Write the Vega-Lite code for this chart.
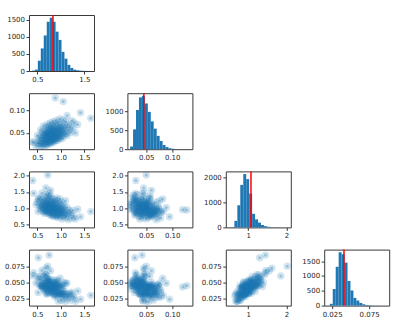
{
"$schema": "https://vega.github.io/schema/vega-lite/v6.json",
"background": "white",
"padding": {"left": 3, "top": 13, "right": 5, "bottom": 3},
"columns": 4,
"spacing": {"row": 22.2, "column": 33.4},
"bounds": "flush",
"config": {
  "view": {"stroke": "#3a3a3a", "strokeWidth": 1},
  "axis": {"grid": false, "domain": false, "labelFont": "DejaVu Sans", "labelFontSize": 7, "labelColor": "#262626", "tickColor": "#3a3a3a", "tickSize": 3, "labelPadding": 1.5}
},
"datasets": {
  "samples": [
{"a":0.42,"b":0.0292,"c":1.458,"d":0.065},{"a":0.47,"b":0.0205,"c":1.119,"d":0.0489},{"a":0.5,"b":0.0445,"c":1.199,"d":0.0589},{"a":0.515,"b":0.0275,"c":0.904,"d":0.0343},{"a":0.53,"b":0.0393,"c":1.265,"d":0.055},
{"a":0.545,"b":0.021,"c":1.098,"d":0.0456},{"a":0.556,"b":0.0327,"c":1.015,"d":0.0537},{"a":0.568,"b":0.0566,"c":1.328,"d":0.0593},{"a":0.575,"b":0.0269,"c":1.046,"d":0.0445},{"a":0.581,"b":0.039,"c":1.178,"d":0.0444},
{"a":0.588,"b":0.022,"c":0.949,"d":0.0452},{"a":0.594,"b":0.0461,"c":1.46,"d":0.0682},{"a":0.6,"b":0.0325,"c":1.106,"d":0.0444},{"a":0.606,"b":0.0531,"c":1.006,"d":0.0453},{"a":0.613,"b":0.0264,"c":1.26,"d":0.0448},
{"a":0.619,"b":0.0394,"c":1.081,"d":0.0522},{"a":0.625,"b":0.0657,"c":0.893,"d":0.0406},{"a":0.632,"b":0.0218,"c":1.187,"d":0.0521},{"a":0.638,"b":0.0455,"c":1.104,"d":0.0592},{"a":0.642,"b":0.0321,"c":0.951,"d":0.038},
{"a":0.646,"b":0.0393,"c":0.845,"d":0.0435},{"a":0.65,"b":0.027,"c":1.211,"d":0.0482},{"a":0.655,"b":0.0514,"c":1.049,"d":0.0393},{"a":0.659,"b":0.034,"c":0.969,"d":0.0446},{"a":0.663,"b":0.0453,"c":1.285,"d":0.0618},
{"a":0.667,"b":0.0212,"c":1.004,"d":0.0402},{"a":0.672,"b":0.0379,"c":1.137,"d":0.0482},{"a":0.676,"b":0.0615,"c":0.909,"d":0.0332},{"a":0.68,"b":0.0317,"c":1.42,"d":0.0614},{"a":0.684,"b":0.0436,"c":1.068,"d":0.0449},
{"a":0.689,"b":0.0266,"c":0.968,"d":0.0446},{"a":0.693,"b":0.0505,"c":1.224,"d":0.0619},{"a":0.697,"b":0.0368,"c":1.046,"d":0.04},{"a":0.7,"b":0.0574,"c":0.86,"d":0.0424},{"a":0.703,"b":0.0305,"c":1.155,"d":0.0461},
{"a":0.706,"b":0.0433,"c":1.074,"d":0.0517},{"a":0.709,"b":0.0695,"c":0.92,"d":0.0315},{"a":0.712,"b":0.0254,"c":1.327,"d":0.0538},{"a":0.715,"b":0.0489,"c":1.009,"d":0.0401},{"a":0.718,"b":0.0356,"c":1.1,"d":0.0536},
{"a":0.721,"b":0.0427,"c":0.941,"d":0.0335},{"a":0.724,"b":0.0303,"c":1.258,"d":0.0558},{"a":0.727,"b":0.0547,"c":0.977,"d":0.0414},{"a":0.731,"b":0.0372,"c":1.111,"d":0.0483},{"a":0.734,"b":0.0485,"c":0.883,"d":0.051},
{"a":0.737,"b":0.0243,"c":1.396,"d":0.0498},{"a":0.74,"b":0.041,"c":1.043,"d":0.0473},{"a":0.743,"b":0.0645,"c":0.944,"d":0.0391},{"a":0.746,"b":0.0346,"c":1.2,"d":0.0549},{"a":0.749,"b":0.0466,"c":1.022,"d":0.0339},
{"a":0.752,"b":0.0294,"c":0.836,"d":0.0384},{"a":0.755,"b":0.0533,"c":1.132,"d":0.0431},{"a":0.758,"b":0.0396,"c":1.05,"d":0.0514},{"a":0.762,"b":0.0601,"c":0.897,"d":0.0431},{"a":0.765,"b":0.0333,"c":1.303,"d":0.0491},
{"a":0.768,"b":0.0461,"c":0.985,"d":0.0355},{"a":0.771,"b":0.0722,"c":1.077,"d":0.046},{"a":0.774,"b":0.0282,"c":0.787,"d":0.0451},{"a":0.777,"b":0.0517,"c":1.154,"d":0.0429},{"a":0.78,"b":0.0384,"c":0.993,"d":0.0421},
{"a":0.783,"b":0.0455,"c":1.087,"d":0.0428},{"a":0.786,"b":0.0331,"c":0.86,"d":0.044},{"a":0.789,"b":0.0575,"c":1.372,"d":0.0437},{"a":0.792,"b":0.04,"c":1.019,"d":0.0433},{"a":0.795,"b":0.0512,"c":0.921,"d":0.036},
{"a":0.798,"b":0.0271,"c":1.176,"d":0.0546},{"a":0.801,"b":0.0437,"c":0.999,"d":0.0456},{"a":0.804,"b":0.0672,"c":0.813,"d":0.0337},{"a":0.807,"b":0.0374,"c":1.108,"d":0.0385},{"a":0.81,"b":0.0493,"c":1.027,"d":0.0438},
{"a":0.813,"b":0.0321,"c":0.874,"d":0.047},{"a":0.816,"b":0.0561,"c":1.28,"d":0.046},{"a":0.819,"b":0.0423,"c":0.962,"d":0.0405},{"a":0.822,"b":0.0628,"c":1.054,"d":0.0351},{"a":0.825,"b":0.036,"c":0.764,"d":0.0394},
{"a":0.828,"b":0.0488,"c":1.131,"d":0.0444},{"a":0.831,"b":0.0749,"c":0.97,"d":0.0424},{"a":0.834,"b":0.0309,"c":0.89,"d":0.0496},{"a":0.837,"b":0.0544,"c":1.207,"d":0.0425},{"a":0.84,"b":0.0411,"c":0.927,"d":0.0421},
{"a":0.843,"b":0.0482,"c":0.996,"d":0.0386},{"a":0.846,"b":0.0358,"c":0.898,"d":0.0315},{"a":0.849,"b":0.0602,"c":1.153,"d":0.047},{"a":0.852,"b":0.0427,"c":0.976,"d":0.0494},{"a":0.855,"b":0.0539,"c":0.79,"d":0.0307},
{"a":0.858,"b":0.0298,"c":1.085,"d":0.0436},{"a":0.861,"b":0.0464,"c":1.004,"d":0.033},{"a":0.864,"b":0.0699,"c":0.851,"d":0.0413},{"a":0.867,"b":0.0401,"c":1.257,"d":0.0475},{"a":0.87,"b":0.052,"c":0.939,"d":0.0408},
{"a":0.873,"b":0.0348,"c":1.031,"d":0.0531},{"a":0.876,"b":0.0588,"c":0.741,"d":0.0279},{"a":0.879,"b":0.045,"c":1.108,"d":0.0469},{"a":0.882,"b":0.0655,"c":0.947,"d":0.0369},{"a":0.889,"b":0.0389,"c":0.865,"d":0.0425},
{"a":0.893,"b":0.0517,"c":1.182,"d":0.0363},{"a":0.897,"b":0.0779,"c":0.901,"d":0.038},{"a":0.901,"b":0.0339,"c":1.034,"d":0.0378},{"a":0.905,"b":0.0575,"c":0.806,"d":0.0417},{"a":0.909,"b":0.0442,"c":1.318,"d":0.0533},
{"a":0.913,"b":0.0513,"c":0.949,"d":0.0434},{"a":0.917,"b":0.039,"c":0.762,"d":0.0318},{"a":0.921,"b":0.0634,"c":1.057,"d":0.0435},{"a":0.925,"b":0.046,"c":0.975,"d":0.0506},{"a":0.929,"b":0.0573,"c":0.821,"d":0.0294},
{"a":0.933,"b":0.0331,"c":1.228,"d":0.0496},{"a":0.937,"b":0.0498,"c":0.909,"d":0.0349},{"a":0.941,"b":0.0734,"c":1.0,"d":0.0457},{"a":0.945,"b":0.0436,"c":0.71,"d":0.0214},{"a":0.949,"b":0.0556,"c":1.076,"d":0.0424},
{"a":0.952,"b":0.0384,"c":0.915,"d":0.0333},{"a":0.957,"b":0.0624,"c":0.835,"d":0.0417},{"a":0.962,"b":0.0487,"c":1.151,"d":0.0474},{"a":0.967,"b":0.0694,"c":0.869,"d":0.0327},{"a":0.972,"b":0.0426,"c":1.002,"d":0.0326},
{"a":0.977,"b":0.0555,"c":0.774,"d":0.0335},{"a":0.982,"b":0.0817,"c":1.286,"d":0.0565},{"a":0.987,"b":0.0378,"c":0.931,"d":0.0328},{"a":0.992,"b":0.0614,"c":0.832,"d":0.0337},{"a":0.997,"b":0.0481,"c":1.087,"d":0.0333},
{"a":1.002,"b":0.0553,"c":0.941,"d":0.0428},{"a":1.007,"b":0.0431,"c":0.786,"d":0.0226},{"a":1.011,"b":0.0674,"c":1.193,"d":0.0449},{"a":1.018,"b":0.0502,"c":0.872,"d":0.031},{"a":1.025,"b":0.0616,"c":0.962,"d":0.0444},
{"a":1.033,"b":0.0376,"c":0.671,"d":0.0319},{"a":1.041,"b":0.0545,"c":1.035,"d":0.0365},{"a":1.049,"b":0.0783,"c":0.871,"d":0.0274},{"a":1.057,"b":0.0486,"c":0.79,"d":0.0327},{"a":1.064,"b":0.0607,"c":1.105,"d":0.0498},
{"a":1.072,"b":0.0438,"c":0.822,"d":0.028},{"a":1.08,"b":0.068,"c":0.954,"d":0.036},{"a":1.09,"b":0.0545,"c":0.723,"d":0.0208},{"a":1.1,"b":0.0754,"c":1.233,"d":0.0488},{"a":1.11,"b":0.0488,"c":0.876,"d":0.0321},
{"a":1.12,"b":0.062,"c":0.775,"d":0.0317},{"a":1.133,"b":0.0885,"c":1.026,"d":0.0487},{"a":1.145,"b":0.0449,"c":0.844,"d":0.0266},{"a":1.16,"b":0.069,"c":0.653,"d":0.0286},{"a":1.175,"b":0.0561,"c":0.943,"d":0.032},
{"a":1.195,"b":0.064,"c":0.793,"d":0.0226},{"a":1.21,"b":0.0522,"c":0.879,"d":0.0328},{"a":1.235,"b":0.0775,"c":0.7,"d":0.0349},{"a":1.26,"b":0.0611,"c":0.937,"d":0.0284},{"a":1.28,"b":0.0731,"c":0.768,"d":0.0271},
{"a":1.31,"b":0.0501,"c":0.676,"d":0.021},{"a":1.36,"b":0.0689,"c":0.972,"d":0.0367},{"a":1.42,"b":0.095,"c":0.74,"d":0.024},{"a":1.64,"b":0.083,"c":0.9,"d":0.03},
{"a":0.88,"b":0.128,"c":0.95,"d":0.045},{"a":1.05,"b":0.12,"c":0.96,"d":0.043},{"a":0.72,"b":0.05,"c":2.02,"d":0.075},{"a":0.4,"b":0.03,"c":1.85,"d":0.06},{"a":0.75,"b":0.042,"c":1.45,"d":0.092},
{"a":0.52,"b":0.028,"c":1.3,"d":0.088},{"a":0.78,"b":0.06,"c":1.55,"d":0.068},{"a":0.68,"b":0.045,"c":1.62,"d":0.072}
  ],
  "hA": [
{"x0":0.383,"x1":0.446,"n":10},{"x0":0.446,"x1":0.509,"n":40},{"x0":0.509,"x1":0.572,"n":300},{"x0":0.572,"x1":0.635,"n":660},{"x0":0.635,"x1":0.699,"n":1040},
{"x0":0.699,"x1":0.762,"n":1440},{"x0":0.762,"x1":0.825,"n":1560},{"x0":0.825,"x1":0.888,"n":1440},{"x0":0.888,"x1":0.951,"n":1150},{"x0":0.951,"x1":1.014,"n":910},
{"x0":1.014,"x1":1.077,"n":560},{"x0":1.077,"x1":1.14,"n":360},{"x0":1.14,"x1":1.203,"n":180},{"x0":1.203,"x1":1.266,"n":90},{"x0":1.266,"x1":1.33,"n":40},
{"x0":1.33,"x1":1.393,"n":20},{"x0":1.393,"x1":1.456,"n":10},{"x0":1.456,"x1":1.519,"n":5},{"x0":1.519,"x1":1.582,"n":2},{"x0":1.582,"x1":1.645,"n":1}
  ],
  "hB": [
{"x0":0.019,"x1":0.0247,"n":70},{"x0":0.0247,"x1":0.0304,"n":520},{"x0":0.0304,"x1":0.036,"n":1030},{"x0":0.036,"x1":0.0417,"n":1360},{"x0":0.0417,"x1":0.0474,"n":1400},
{"x0":0.0474,"x1":0.0531,"n":1200},{"x0":0.0531,"x1":0.0588,"n":980},{"x0":0.0588,"x1":0.0644,"n":730},{"x0":0.0644,"x1":0.0701,"n":540},{"x0":0.0701,"x1":0.0758,"n":350},
{"x0":0.0758,"x1":0.0815,"n":215},{"x0":0.0815,"x1":0.0872,"n":110},{"x0":0.0872,"x1":0.0928,"n":55},{"x0":0.0928,"x1":0.0985,"n":25},{"x0":0.0985,"x1":0.1042,"n":12},
{"x0":0.1042,"x1":0.1099,"n":6},{"x0":0.1099,"x1":0.1156,"n":3},{"x0":0.1156,"x1":0.1212,"n":2},{"x0":0.1212,"x1":0.1269,"n":1},{"x0":0.1269,"x1":0.1326,"n":1}
  ],
  "hC": [
{"x0":0.486,"x1":0.563,"n":3},{"x0":0.563,"x1":0.64,"n":10},{"x0":0.64,"x1":0.717,"n":260},{"x0":0.717,"x1":0.794,"n":880},{"x0":0.794,"x1":0.872,"n":1690},
{"x0":0.872,"x1":0.949,"n":2120},{"x0":0.949,"x1":1.026,"n":1920},{"x0":1.026,"x1":1.103,"n":1340},{"x0":1.103,"x1":1.18,"n":540},{"x0":1.18,"x1":1.257,"n":320},
{"x0":1.257,"x1":1.334,"n":190},{"x0":1.334,"x1":1.411,"n":95},{"x0":1.411,"x1":1.488,"n":50},{"x0":1.488,"x1":1.565,"n":25},{"x0":1.565,"x1":1.643,"n":12},
{"x0":1.643,"x1":1.72,"n":6},{"x0":1.72,"x1":1.797,"n":3},{"x0":1.797,"x1":1.874,"n":2},{"x0":1.874,"x1":1.951,"n":1},{"x0":1.951,"x1":2.028,"n":1}
  ],
  "hD": [
{"x0":0.0178,"x1":0.0218,"n":2},{"x0":0.0218,"x1":0.0258,"n":60},{"x0":0.0258,"x1":0.0298,"n":560},{"x0":0.0298,"x1":0.0338,"n":1310},{"x0":0.0338,"x1":0.0378,"n":1800},
{"x0":0.0378,"x1":0.0418,"n":1730},{"x0":0.0418,"x1":0.0458,"n":1450},{"x0":0.0458,"x1":0.0498,"n":830},{"x0":0.0498,"x1":0.0538,"n":510},{"x0":0.0538,"x1":0.0578,"n":260},
{"x0":0.0578,"x1":0.0618,"n":170},{"x0":0.0618,"x1":0.0658,"n":90},{"x0":0.0658,"x1":0.0698,"n":45},{"x0":0.0698,"x1":0.0738,"n":20},{"x0":0.0738,"x1":0.0778,"n":10},
{"x0":0.0778,"x1":0.0818,"n":5},{"x0":0.0818,"x1":0.0858,"n":3},{"x0":0.0858,"x1":0.0898,"n":2},{"x0":0.0898,"x1":0.0938,"n":1},{"x0":0.0938,"x1":0.0978,"n":1}
  ]
},
"concat": [
  {"width": 65, "height": 56, "layer": [
    {"data": {"name": "hA"}, "mark": {"type": "rect", "color": "#1f77b4"}, "encoding": {
      "x": {"field": "x0", "type": "quantitative", "scale": {"domain": [0.32, 1.708], "nice": false, "zero": false}, "axis": {"values": [0.5, 1, 1.5], "format": ".1f", "title": null}},
      "x2": {"field": "x1"},
      "y": {"field": "n", "type": "quantitative", "scale": {"domain": [0, 1638], "nice": false}, "axis": {"values": [0, 500, 1000, 1500], "format": "d", "title": null}},
      "y2": {"datum": 0}}},
    {"data": {"values": [{"v": 0.832}]}, "mark": {"type": "rule", "color": "#ff0000", "strokeWidth": 1.5}, "encoding": {"x": {"field": "v", "type": "quantitative"}}}
  ]},
  {"width": 65, "height": 56, "data": {"values": [{}]}, "mark": {"type": "point", "opacity": 0}, "view": {"stroke": null}},
  {"width": 65, "height": 56, "data": {"values": [{}]}, "mark": {"type": "point", "opacity": 0}, "view": {"stroke": null}},
  {"width": 65, "height": 56, "data": {"values": [{}]}, "mark": {"type": "point", "opacity": 0}, "view": {"stroke": null}},

  {"width": 65, "height": 56, "data": {"name": "samples"},
   "encoding": {
    "x": {"field": "a", "type": "quantitative", "scale": {"domain": [0.32, 1.708], "nice": false, "zero": false}, "axis": {"values": [0.5, 1, 1.5], "format": ".1f", "title": null}},
    "y": {"field": "b", "type": "quantitative", "scale": {"domain": [0.0138, 0.1388], "nice": false, "zero": false}, "axis": {"values": [0.05, 0.1], "format": ".2f", "title": null}}},
   "layer": [
    {"mark": {"type": "circle", "size": 55, "opacity": 0.2, "color": "#1f77b4", "clip": true}},
    {"mark": {"type": "circle", "size": 9, "opacity": 0.3, "color": "#1f77b4", "clip": true}}
   ]},
  {"width": 65, "height": 56, "layer": [
    {"data": {"name": "hB"}, "mark": {"type": "rect", "color": "#1f77b4"}, "encoding": {
      "x": {"field": "x0", "type": "quantitative", "scale": {"domain": [0.0138, 0.1388], "nice": false, "zero": false}, "axis": {"values": [0.05, 0.1], "format": ".2f", "title": null}},
      "x2": {"field": "x1"},
      "y": {"field": "n", "type": "quantitative", "scale": {"domain": [0, 1470], "nice": false}, "axis": {"values": [0, 500, 1000], "format": "d", "title": null}},
      "y2": {"datum": 0}}},
    {"data": {"values": [{"v": 0.0454}]}, "mark": {"type": "rule", "color": "#ff0000", "strokeWidth": 1.5}, "encoding": {"x": {"field": "v", "type": "quantitative"}}}
  ]},
  {"width": 65, "height": 56, "data": {"values": [{}]}, "mark": {"type": "point", "opacity": 0}, "view": {"stroke": null}},
  {"width": 65, "height": 56, "data": {"values": [{}]}, "mark": {"type": "point", "opacity": 0}, "view": {"stroke": null}},

  {"width": 65, "height": 56, "data": {"name": "samples"},
   "encoding": {
    "x": {"field": "a", "type": "quantitative", "scale": {"domain": [0.32, 1.708], "nice": false, "zero": false}, "axis": {"values": [0.5, 1, 1.5], "format": ".1f", "title": null}},
    "y": {"field": "c", "type": "quantitative", "scale": {"domain": [0.416, 2.13], "nice": false, "zero": false}, "axis": {"values": [0.5, 1, 1.5, 2], "format": ".1f", "title": null}}},
   "layer": [
    {"mark": {"type": "circle", "size": 55, "opacity": 0.2, "color": "#1f77b4", "clip": true}},
    {"mark": {"type": "circle", "size": 9, "opacity": 0.3, "color": "#1f77b4", "clip": true}}
   ]},
  {"width": 65, "height": 56, "data": {"name": "samples"},
   "encoding": {
    "x": {"field": "b", "type": "quantitative", "scale": {"domain": [0.0138, 0.1388], "nice": false, "zero": false}, "axis": {"values": [0.05, 0.1], "format": ".2f", "title": null}},
    "y": {"field": "c", "type": "quantitative", "scale": {"domain": [0.416, 2.13], "nice": false, "zero": false}, "axis": {"values": [0.5, 1, 1.5, 2], "format": ".1f", "title": null}}},
   "layer": [
    {"mark": {"type": "circle", "size": 55, "opacity": 0.2, "color": "#1f77b4", "clip": true}},
    {"mark": {"type": "circle", "size": 9, "opacity": 0.3, "color": "#1f77b4", "clip": true}}
   ]},
  {"width": 65, "height": 56, "layer": [
    {"data": {"name": "hC"}, "mark": {"type": "rect", "color": "#1f77b4"}, "encoding": {
      "x": {"field": "x0", "type": "quantitative", "scale": {"domain": [0.416, 2.112], "nice": false, "zero": false}, "axis": {"values": [1, 2], "format": "d", "title": null}},
      "x2": {"field": "x1"},
      "y": {"field": "n", "type": "quantitative", "scale": {"domain": [0, 2226], "nice": false}, "axis": {"values": [0, 1000, 2000], "format": "d", "title": null}},
      "y2": {"datum": 0}}},
    {"data": {"values": [{"v": 1.073}]}, "mark": {"type": "rule", "color": "#ff0000", "strokeWidth": 1.5}, "encoding": {"x": {"field": "v", "type": "quantitative"}}}
  ]},
  {"width": 65, "height": 56, "data": {"values": [{}]}, "mark": {"type": "point", "opacity": 0}, "view": {"stroke": null}},

  {"width": 65, "height": 56, "data": {"name": "samples"},
   "encoding": {
    "x": {"field": "a", "type": "quantitative", "scale": {"domain": [0.32, 1.708], "nice": false, "zero": false}, "axis": {"values": [0.5, 1, 1.5], "format": ".1f", "title": null}},
    "y": {"field": "d", "type": "quantitative", "scale": {"domain": [0.0142, 0.1005], "nice": false, "zero": false}, "axis": {"values": [0.025, 0.05, 0.075], "format": ".3f", "title": null}}},
   "layer": [
    {"mark": {"type": "circle", "size": 55, "opacity": 0.2, "color": "#1f77b4", "clip": true}},
    {"mark": {"type": "circle", "size": 9, "opacity": 0.3, "color": "#1f77b4", "clip": true}}
   ]},
  {"width": 65, "height": 56, "data": {"name": "samples"},
   "encoding": {
    "x": {"field": "b", "type": "quantitative", "scale": {"domain": [0.0138, 0.1388], "nice": false, "zero": false}, "axis": {"values": [0.05, 0.1], "format": ".2f", "title": null}},
    "y": {"field": "d", "type": "quantitative", "scale": {"domain": [0.0142, 0.1005], "nice": false, "zero": false}, "axis": {"values": [0.025, 0.05, 0.075], "format": ".3f", "title": null}}},
   "layer": [
    {"mark": {"type": "circle", "size": 55, "opacity": 0.2, "color": "#1f77b4", "clip": true}},
    {"mark": {"type": "circle", "size": 9, "opacity": 0.3, "color": "#1f77b4", "clip": true}}
   ]},
  {"width": 65, "height": 56, "data": {"name": "samples"},
   "encoding": {
    "x": {"field": "c", "type": "quantitative", "scale": {"domain": [0.416, 2.112], "nice": false, "zero": false}, "axis": {"values": [1, 2], "format": "d", "title": null}},
    "y": {"field": "d", "type": "quantitative", "scale": {"domain": [0.0142, 0.1005], "nice": false, "zero": false}, "axis": {"values": [0.025, 0.05, 0.075], "format": ".3f", "title": null}}},
   "layer": [
    {"mark": {"type": "circle", "size": 55, "opacity": 0.2, "color": "#1f77b4", "clip": true}},
    {"mark": {"type": "circle", "size": 9, "opacity": 0.3, "color": "#1f77b4", "clip": true}}
   ]},
  {"width": 65, "height": 56, "layer": [
    {"data": {"name": "hD"}, "mark": {"type": "rect", "color": "#1f77b4"}, "encoding": {
      "x": {"field": "x0", "type": "quantitative", "scale": {"domain": [0.0142, 0.1023], "nice": false, "zero": false}, "axis": {"values": [0.025, 0.05, 0.075], "format": ".3f", "title": null}},
      "x2": {"field": "x1"},
      "y": {"field": "n", "type": "quantitative", "scale": {"domain": [0, 1890], "nice": false}, "axis": {"values": [0, 500, 1000, 1500], "format": "d", "title": null}},
      "y2": {"datum": 0}}},
    {"data": {"values": [{"v": 0.041}]}, "mark": {"type": "rule", "color": "#ff0000", "strokeWidth": 1.5}, "encoding": {"x": {"field": "v", "type": "quantitative"}}}
  ]}
]
}
